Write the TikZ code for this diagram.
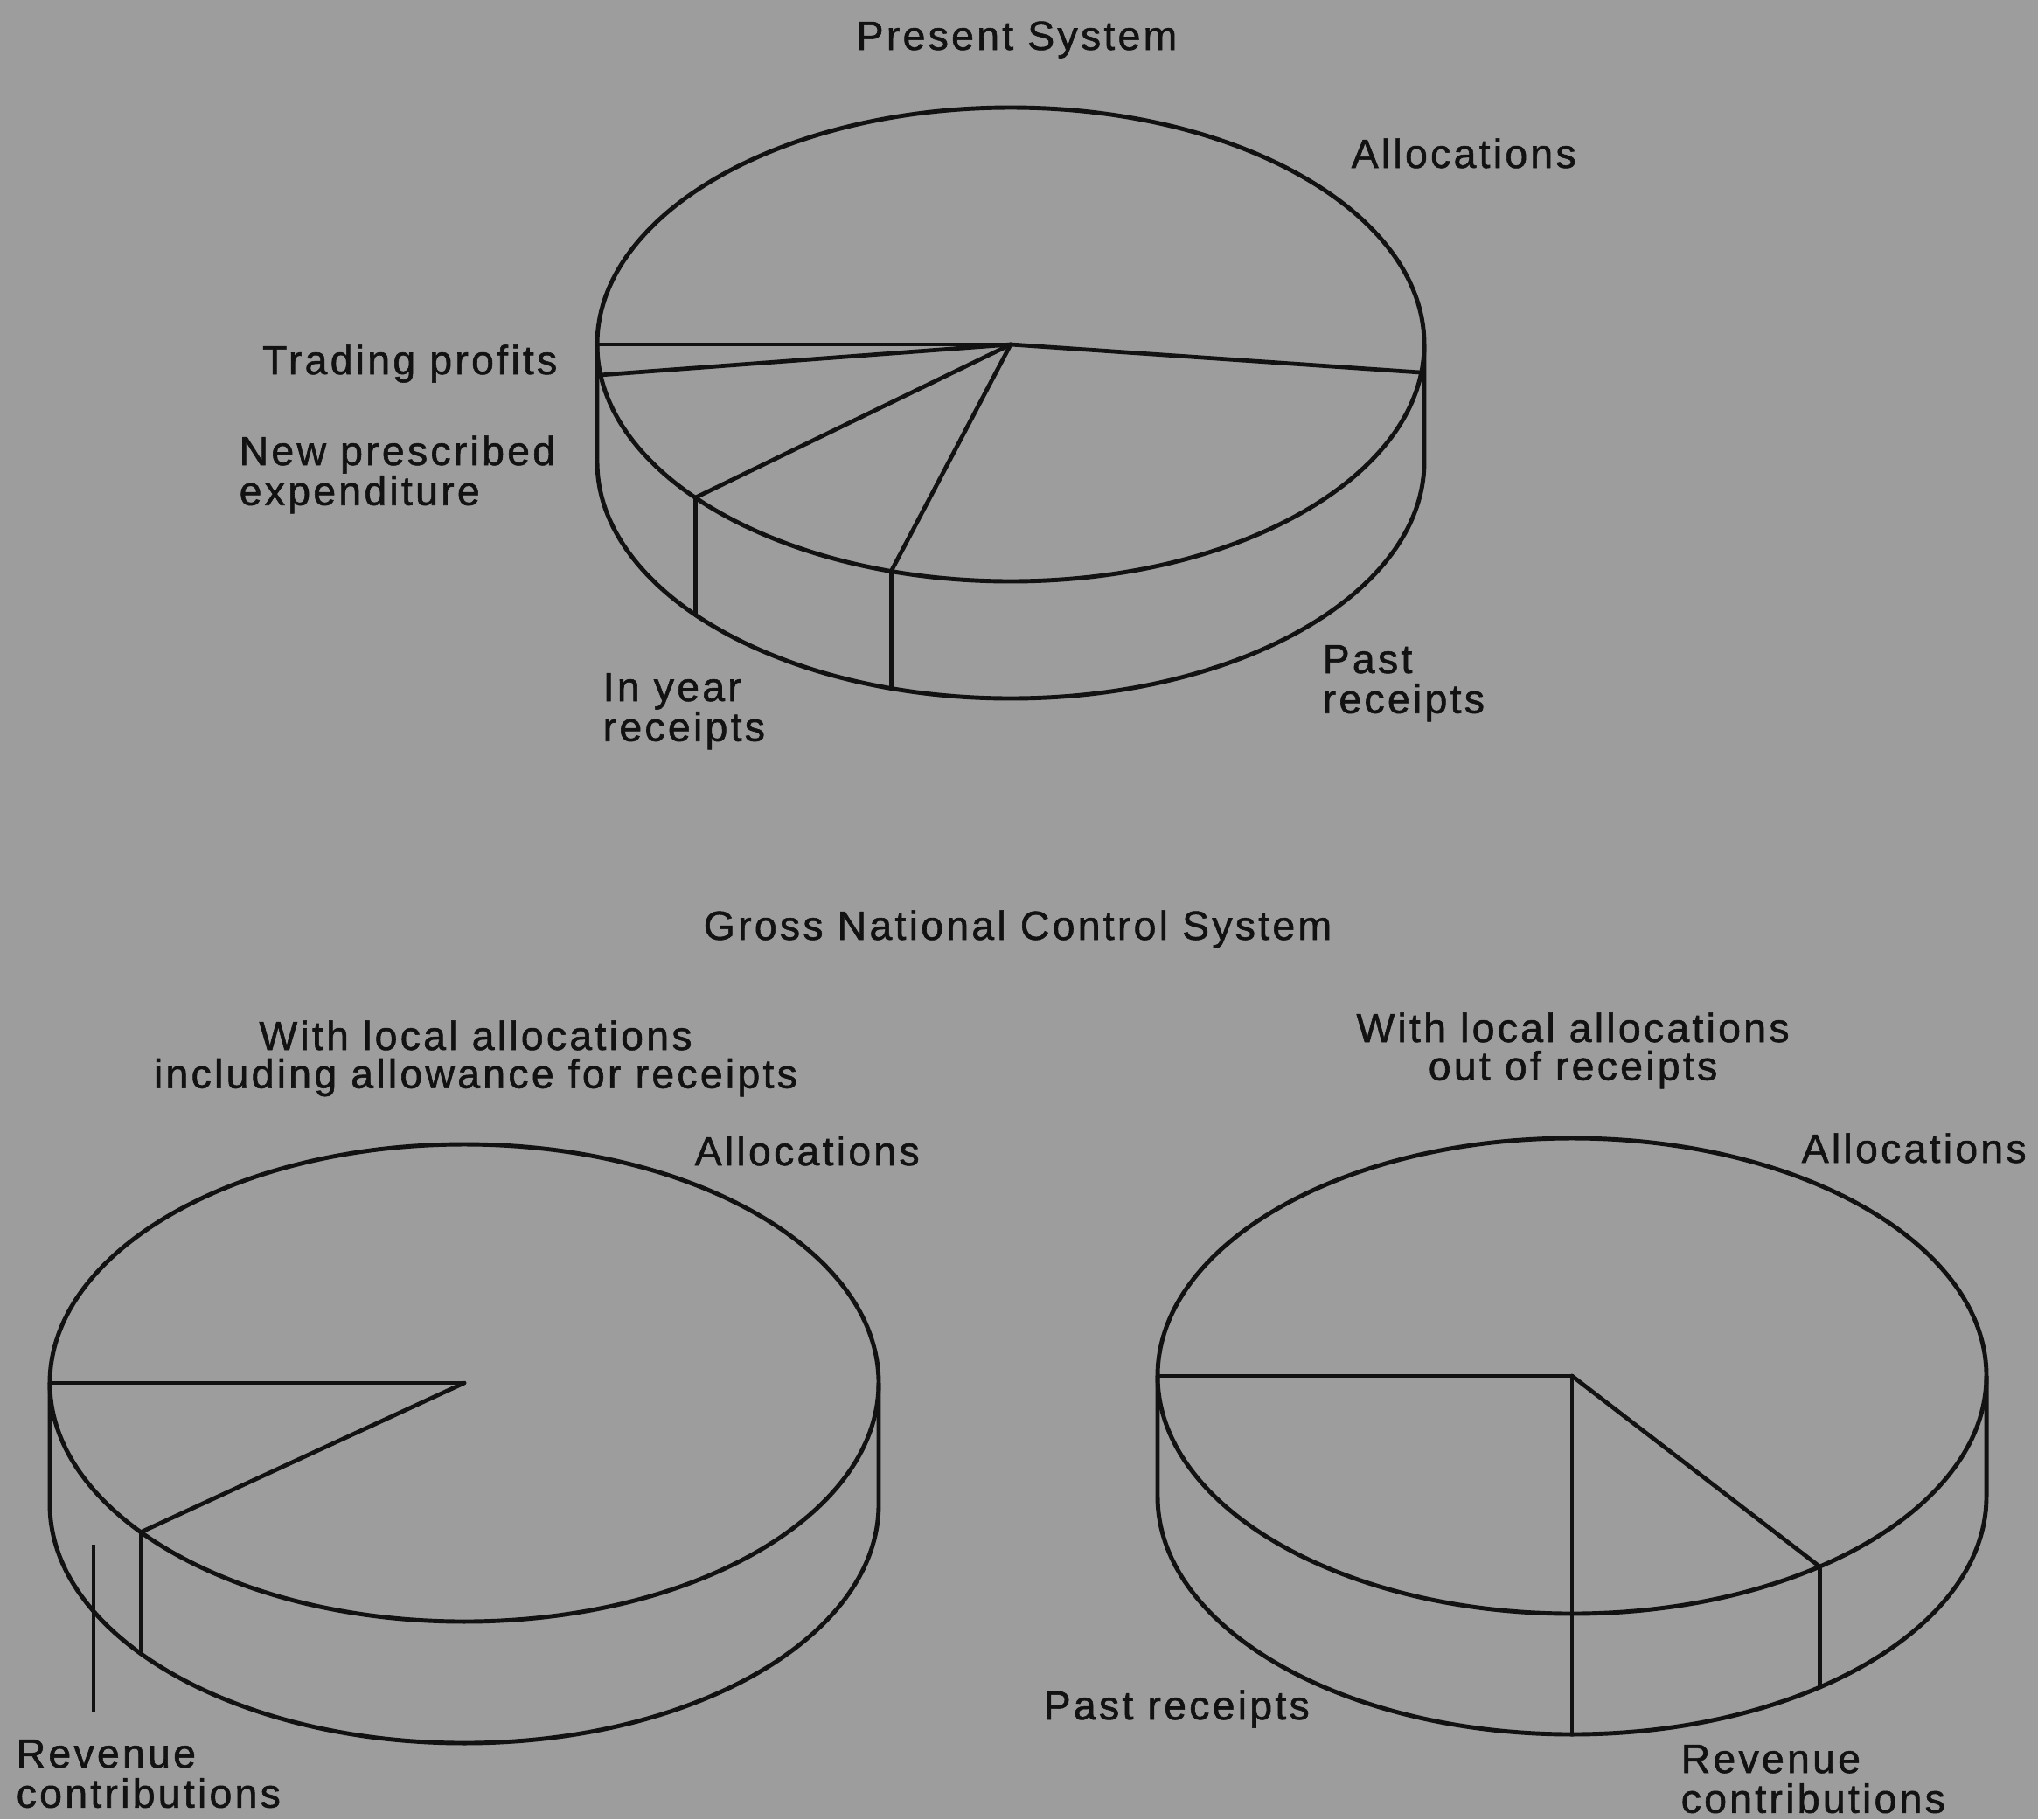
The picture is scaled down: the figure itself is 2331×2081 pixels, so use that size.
\documentclass[tikz,border=0pt]{standalone}
\usepackage{fontspec}
\setmainfont{Liberation Sans}[LetterSpace=7,FakeBold=1.2]
\usetikzlibrary{calc}
\definecolor{bg}{RGB}{157,157,157}
\definecolor{ink}{RGB}{18,18,18}
\newcommand{\Lstack}[1]{\vtop{\halign{##\hfil\cr#1\crcr}}}
\newcommand{\Cstack}[1]{\vtop{\halign{\hfil##\hfil\cr#1\crcr}}}
\tikzset{
  lbl/.style={inner sep=0pt, text=ink, font=\fontsize{13.2}{13}\selectfont},
  sublbl/.style={inner sep=0pt, text=ink, font=\fontsize{13.2}{12.4}\selectfont},
  rim/.style={draw=ink, line width=1.4pt, line join=round},
  seg/.style={draw=ink, line width=1.35pt, line cap=round},
  leader/.style={draw=ink, line width=1.1pt},
}
\begin{document}
\begin{tikzpicture}[x=0.01cm,y=-0.01cm]
\fill[bg] (0,0) rectangle (2331,2081);
\useasboundingbox (0,0) rectangle (2331,2081);

% ---------- Present System ----------
\coordinate (A) at (1156,394);
\draw[rim] (A) ellipse [x radius=473, y radius=271];
\coordinate (AL) at ($(A)+(-473,0)$);
\coordinate (AR) at ($(A)+(473,0)$);
\draw[rim] (AL) -- ++(0,134) arc[start angle=180, end angle=0, x radius=473, y radius=271] -- (AR);
\coordinate (a1) at ($(A)+(180:473 and 271)$);
\coordinate (a2) at ($(A)+(172.6:473 and 271)$);
\coordinate (a3) at ($(A)+(139.7:473 and 271)$);
\coordinate (a4) at ($(A)+(106.8:473 and 271)$);
\coordinate (a5) at ($(A)+(6.8:473 and 271)$);
\coordinate (a3b) at ($(a3)+(0,134)$);
\coordinate (a4b) at ($(a4)+(0,134)$);
\draw[seg] (A) -- (a1);
\draw[seg] (A) -- (a2);
\draw[seg] (A) -- (a3);
\draw[seg] (A) -- (a4);
\draw[seg] (A) -- (a5);
\draw[seg] (a3) -- (a3b);
\draw[seg] (a4) -- (a4b);

\node[lbl, anchor=base] (t1) at (1163,57) {Present System};
\node[lbl, anchor=base west] (t1a) at (1545,192) {Allocations};
\node[lbl, anchor=base east] (t1t) at (638,428) {Trading profits};
\node[lbl, anchor=base west] (t1n) at (273,532) {\Lstack{New prescribed\cr expenditure}};
\node[lbl, anchor=base west] (t1i) at (689,802) {\Lstack{In year\cr receipts}};
\node[lbl, anchor=base west] (t1p) at (1512,770) {\Lstack{Past\cr receipts}};

% ---------- Gross National Control System ----------
\node[lbl, anchor=base] (t2) at (1164,1075) {Gross National Control System};

% left pie
\coordinate (B) at (531,1582);
\draw[rim] (B) ellipse [x radius=474, y radius=273];
\coordinate (BL) at ($(B)+(-474,0)$);
\coordinate (BR) at ($(B)+(474,0)$);
\draw[rim] (BL) -- ++(0,139) arc[start angle=180, end angle=0, x radius=474, y radius=273] -- (BR);
\coordinate (b1) at ($(B)+(180:474 and 273)$);
\coordinate (b2) at ($(B)+(141.3:474 and 273)$);
\coordinate (b2b) at ($(b2)+(0,139)$);
\draw[seg] (B) -- (b1);
\draw[seg] (B) -- (b2);
\draw[seg] (b2) -- (b2b);
\coordinate (l1) at (107,1767);
\coordinate (l2) at (107,1959);
\draw[leader] (l1) -- (l2);

\node[sublbl, anchor=base] (s1) at (544,1201) {\Cstack{With local allocations\cr including allowance for receipts}};
\node[lbl, anchor=base west] (s1a) at (794,1333) {Allocations};
\node[lbl, anchor=base west] (s1r) at (18,2022) {\Lstack{Revenue\cr contributions}};

% right pie
\coordinate (R) at (1798,1574);
\draw[rim] (R) ellipse [x radius=474, y radius=272];
\coordinate (RL) at ($(R)+(-474,0)$);
\coordinate (RR) at ($(R)+(474,0)$);
\draw[rim] (RL) -- ++(0,138) arc[start angle=180, end angle=0, x radius=474, y radius=272] -- (RR);
\coordinate (r1) at ($(R)+(180:474 and 272)$);
\coordinate (r2) at ($(R)+(90:474 and 272)$);
\coordinate (r2b) at ($(r2)+(0,138)$);
\coordinate (r3) at ($(R)+(53.3:474 and 272)$);
\coordinate (r3b) at ($(r3)+(0,138)$);
\draw[seg] (R) -- (r1);
\draw[seg] (R) -- (r2) -- (r2b);
\draw[seg] (R) -- (r3);
\draw[seg] (r3) -- (r3b);

\node[sublbl, anchor=base] (s2) at (1799,1192) {\Cstack{With local allocations\cr out of receipts}};
\node[lbl, anchor=base west] (s2a) at (2060,1330) {Allocations};
\node[lbl, anchor=base west] (s2p) at (1193,1967) {Past receipts};
\node[lbl, anchor=base west] (s2r) at (1922,2028) {\Lstack{Revenue\cr contributions}};
\end{tikzpicture}
\end{document}
